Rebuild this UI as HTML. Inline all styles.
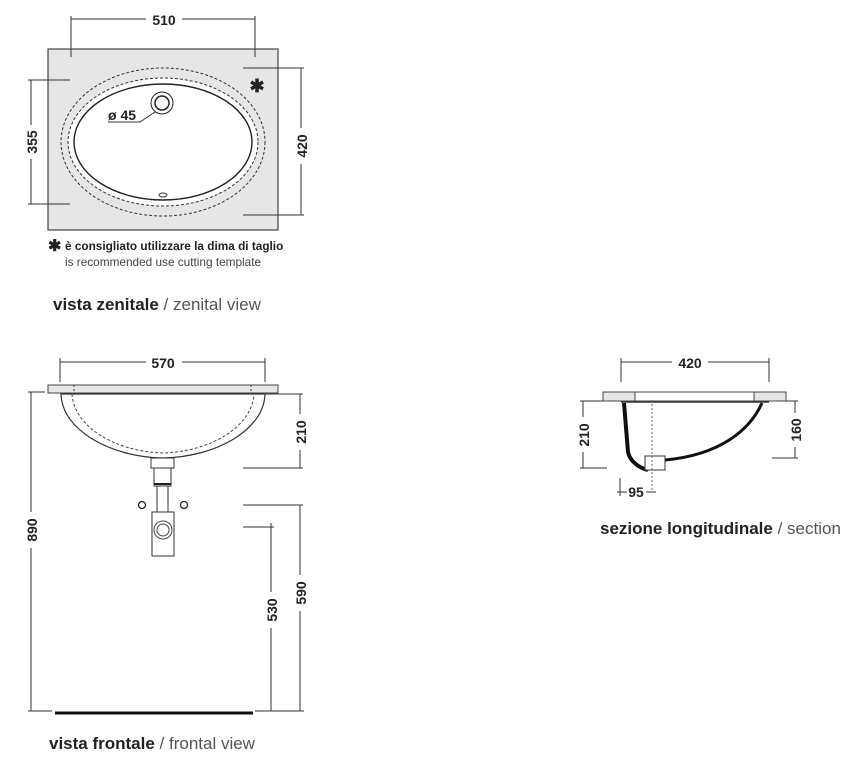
<!DOCTYPE html>
<html><head><meta charset="utf-8"><style>
body{margin:0;background:#fff;}
svg{display:block;font-family:"Liberation Sans",sans-serif;}
.d{stroke:#333;stroke-width:1;fill:none}
.t{font-size:14px;fill:#222;font-weight:bold;text-anchor:middle}
</style></head><body>
<svg width="850" height="763" viewBox="0 0 850 763">
<!-- TOP VIEW -->
<rect x="48" y="49" width="230" height="181" fill="#e6e6e6" stroke="#444" stroke-width="1.2"/>
<ellipse cx="163" cy="142" rx="102" ry="74" fill="none" stroke="#333" stroke-dasharray="3,2"/>
<ellipse cx="163" cy="142" rx="95" ry="64" fill="#fff" stroke="#333" stroke-dasharray="3,2"/>
<ellipse cx="163" cy="142" rx="89" ry="58" fill="#fff" stroke="#222" stroke-width="1.4"/>
<circle cx="162" cy="103" r="11" fill="#fff" stroke="#222"/>
<circle cx="162" cy="103" r="7" fill="#fff" stroke="#222" stroke-width="1.5"/>
<polyline points="155,112 140,122 108,122" class="d"/>
<text x="108" y="120" font-size="14" font-weight="bold" fill="#222">ø 45</text>
<ellipse cx="163" cy="195" rx="4" ry="2" fill="none" stroke="#333"/>
<text x="257" y="92" font-size="18" font-weight="bold" fill="#222" text-anchor="middle">✱</text>
<line x1="71" y1="19" x2="146" y2="19" class="d"/><line x1="182" y1="19" x2="255" y2="19" class="d"/>
<line x1="71" y1="16" x2="71" y2="57" class="d"/><line x1="255" y1="16" x2="255" y2="57" class="d"/>
<text x="164" y="25" class="t">510</text>
<line x1="28" y1="80" x2="70" y2="80" class="d"/><line x1="28" y1="204" x2="70" y2="204" class="d"/>
<line x1="31" y1="80" x2="31" y2="125" class="d"/><line x1="31" y1="159" x2="31" y2="204" class="d"/>
<text transform="translate(37,142) rotate(-90)" class="t">355</text>
<line x1="243" y1="68" x2="304" y2="68" class="d"/><line x1="243" y1="215" x2="304" y2="215" class="d"/>
<line x1="301" y1="68" x2="301" y2="128" class="d"/><line x1="301" y1="164" x2="301" y2="215" class="d"/>
<text transform="translate(307,146) rotate(-90)" class="t">420</text>
<text x="48" y="251" font-size="16" font-weight="bold" fill="#222">✱</text>
<text x="65" y="250" font-size="11.8" font-weight="bold" fill="#222">è consigliato utilizzare la dima di taglio</text>
<text x="65" y="266" font-size="11.8" fill="#444">is recommended use cutting template</text>
<text x="53" y="310" font-size="17" fill="#222"><tspan font-weight="bold">vista zenitale</tspan><tspan fill="#555"> / zenital view</tspan></text>

<!-- FRONT VIEW -->
<line x1="60" y1="362" x2="146" y2="362" class="d"/><line x1="182" y1="362" x2="265" y2="362" class="d"/>
<line x1="60" y1="358" x2="60" y2="382" class="d"/><line x1="265" y1="358" x2="265" y2="382" class="d"/>
<text x="163" y="368" class="t">570</text>
<rect x="48" y="385" width="230" height="8" fill="#e6e6e6" stroke="#444"/>
<line x1="74" y1="385" x2="74" y2="393" class="d" stroke-dasharray="2,2"/><line x1="251" y1="385" x2="251" y2="393" class="d" stroke-dasharray="2,2"/>
<path d="M61,394 C62,430 110,457 163,458 C216,457 264,430 265,394 Z" fill="#fff" stroke="#333" stroke-width="1.2"/>
<path d="M72,394 C74,428 118,452 163,453 C208,452 252,428 254,394" fill="none" stroke="#444" stroke-dasharray="3,2"/>
<rect x="151" y="458" width="23" height="10" fill="#fff" stroke="#333"/>
<rect x="154" y="468" width="17" height="18" fill="#fff" stroke="#333"/>
<line x1="154" y1="484" x2="171" y2="484" stroke="#222" stroke-width="2"/>
<rect x="157" y="486" width="11" height="26" fill="#fff" stroke="#333"/>
<rect x="152" y="512" width="22" height="44" fill="#fff" stroke="#333"/>
<circle cx="163" cy="530" r="9" fill="none" stroke="#444"/><circle cx="163" cy="530" r="6" fill="none" stroke="#444"/>
<circle cx="142" cy="505" r="3.5" fill="#fff" stroke="#222" stroke-width="1.3"/>
<circle cx="184" cy="505" r="3.5" fill="#fff" stroke="#222" stroke-width="1.3"/>
<line x1="28" y1="392" x2="45" y2="392" class="d"/>
<line x1="31" y1="392" x2="31" y2="512" class="d"/><line x1="31" y1="548" x2="31" y2="711" class="d"/>
<text transform="translate(37,530) rotate(-90)" class="t">890</text>
<line x1="28" y1="711" x2="52" y2="711" class="d"/><line x1="255" y1="711" x2="304" y2="711" class="d"/>
<line x1="55" y1="713" x2="253" y2="713" stroke="#111" stroke-width="3"/>
<line x1="265" y1="394" x2="303" y2="394" class="d"/><line x1="243" y1="468" x2="303" y2="468" class="d"/>
<line x1="300" y1="394" x2="300" y2="414" class="d"/><line x1="300" y1="450" x2="300" y2="468" class="d"/>
<text transform="translate(306,432) rotate(-90)" class="t">210</text>
<line x1="243" y1="505" x2="303" y2="505" class="d"/>
<line x1="300" y1="505" x2="300" y2="575" class="d"/><line x1="300" y1="611" x2="300" y2="711" class="d"/>
<text transform="translate(306,593) rotate(-90)" class="t">590</text>
<line x1="243" y1="527" x2="274" y2="527" class="d"/>
<line x1="271" y1="523" x2="271" y2="592" class="d"/><line x1="271" y1="628" x2="271" y2="711" class="d"/>
<text transform="translate(277,610) rotate(-90)" class="t">530</text>
<text x="49" y="749" font-size="17" fill="#222"><tspan font-weight="bold">vista frontale</tspan><tspan fill="#555"> / frontal view</tspan></text>

<!-- SECTION -->
<line x1="621" y1="362" x2="672" y2="362" class="d"/><line x1="708" y1="362" x2="769" y2="362" class="d"/>
<line x1="621" y1="358" x2="621" y2="382" class="d"/><line x1="769" y1="358" x2="769" y2="382" class="d"/>
<text x="690" y="368" class="t">420</text>
<rect x="603" y="392" width="183" height="9" fill="#fff" stroke="#444"/>
<rect x="603" y="392" width="32" height="9" fill="#e6e6e6" stroke="#444"/>
<rect x="754" y="392" width="32" height="9" fill="#e6e6e6" stroke="#444"/>
<path d="M624,403 L628,452 C630,462 640,468 648,470" fill="none" stroke="#111" stroke-width="4"/>
<path d="M665,460 C720,455 750,430 762,403" fill="none" stroke="#111" stroke-width="3"/>
<line x1="621" y1="402" x2="769" y2="402" stroke="#333" stroke-width="1.5"/>
<rect x="645" y="456" width="20" height="14" fill="#fff" stroke="#333"/>
<line x1="652" y1="400" x2="652" y2="492" stroke="#666" stroke-dasharray="2,2"/>
<line x1="580" y1="401" x2="603" y2="401" class="d"/><line x1="580" y1="468" x2="607" y2="468" class="d"/>
<line x1="583" y1="401" x2="583" y2="417" class="d"/><line x1="583" y1="452" x2="583" y2="468" class="d"/>
<text transform="translate(589,435) rotate(-90)" class="t">210</text>
<line x1="786" y1="401" x2="798" y2="401" class="d"/><line x1="772" y1="458" x2="798" y2="458" class="d"/>
<line x1="795" y1="401" x2="795" y2="413" class="d"/><line x1="795" y1="447" x2="795" y2="458" class="d"/>
<text transform="translate(801,430) rotate(-90)" class="t">160</text>
<line x1="620" y1="478" x2="620" y2="496" class="d"/>
<line x1="617" y1="492" x2="627" y2="492" class="d"/><line x1="646" y1="492" x2="656" y2="492" class="d"/>
<text x="636" y="497" class="t">95</text>
<text x="600" y="534" font-size="17" fill="#222"><tspan font-weight="bold">sezione longitudinale</tspan><tspan fill="#555"> / section</tspan></text>
</svg>
</body></html>
